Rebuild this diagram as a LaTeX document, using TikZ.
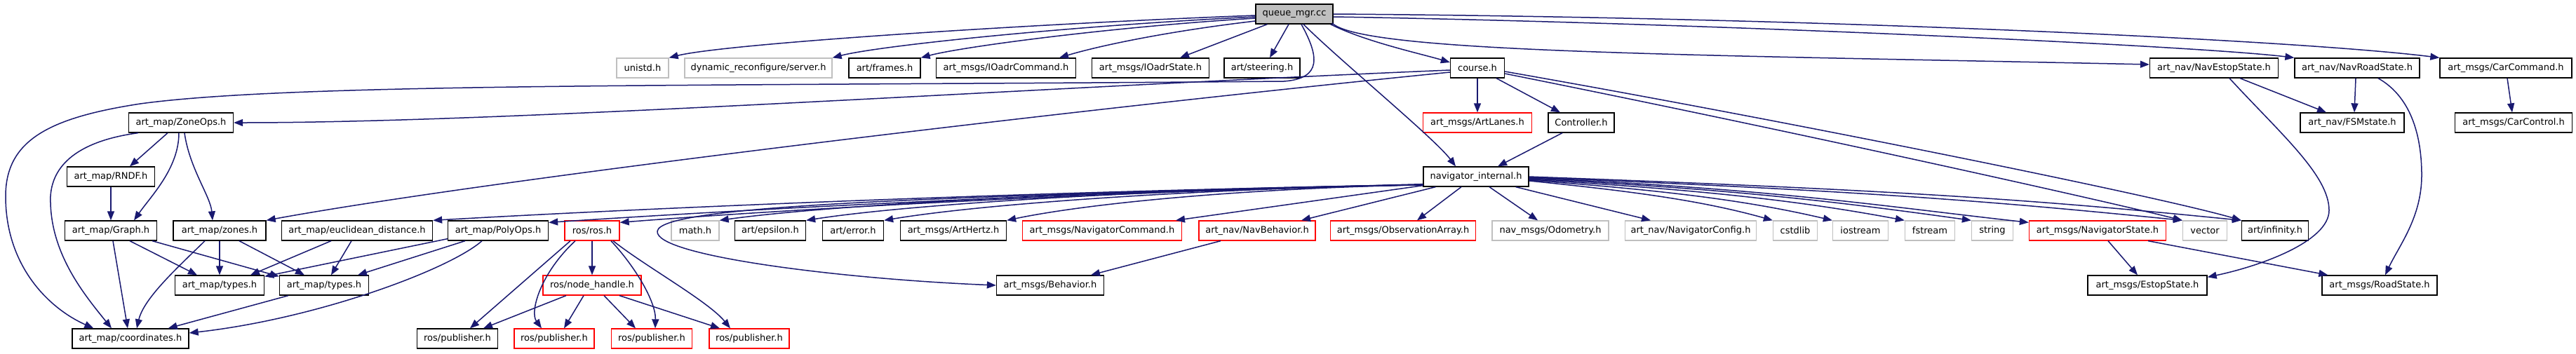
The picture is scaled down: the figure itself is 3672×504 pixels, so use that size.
\documentclass[tikz,border=0pt]{standalone}
\usepackage{fontspec}
\newfontfamily\dvs{DejaVu Sans}
\usetikzlibrary{arrows.meta,calc}
\definecolor{edgeblue}{HTML}{191970}
\definecolor{sysgray}{HTML}{BFBFBF}
\definecolor{rootgray}{HTML}{BFBFBF}
\begin{document}
\begin{tikzpicture}[x=1pt,y=-1pt,
 nd/.style={draw=black,line width=1.3pt,fill=white,minimum height=28pt,inner xsep=4pt,inner ysep=0pt,font=\dvs\fontsize{13}{15}\selectfont,text=black},
 sysnd/.style={nd,draw=sysgray},
 rednd/.style={nd,draw=red},
 rootnd/.style={nd,fill=rootgray},
 edge/.style={draw=edgeblue,line width=1.5pt,-{Triangle[length=13pt,width=10pt]}}]
\fill[white] (0,0) rectangle (3672,504);
\useasboundingbox (0,0) rectangle (3672,504);
% row 0
\node[rootnd,minimum width=110pt] (qmgr) at (1845,20) {queue\_mgr.cc};
% row 1
\node[sysnd,minimum width=74pt] (unistd) at (916,97) {unistd.h};
\node[sysnd,minimum width=210pt] (dynrec) at (1081,97) {dynamic\_reconfigure/server.h};
\node[nd,minimum width=102pt] (frames) at (1261,97) {art/frames.h};
\node[nd,minimum width=199pt] (ioadrcmd) at (1434,97) {art\_msgs/IOadrCommand.h};
\node[nd,minimum width=167pt] (ioadrstate) at (1640,97) {art\_msgs/IOadrState.h};
\node[nd,minimum width=108pt] (steering) at (1799,97) {art/steering.h};
\node[nd,minimum width=77pt] (course) at (2106,97) {course.h};
\node[nd,minimum width=183pt] (navestop) at (3156,97) {art\_nav/NavEstopState.h};
\node[nd,minimum width=178pt] (navroad) at (3360,97) {art\_nav/NavRoadState.h};
\node[nd,minimum width=188pt] (carcmd) at (3572,97) {art\_msgs/CarCommand.h};
% row 2
\node[nd,minimum width=149pt] (zoneops) at (258,175) {art\_map/ZoneOps.h};
\node[rednd,minimum width=155pt] (artlanes) at (2106,175) {art\_msgs/ArtLanes.h};
\node[nd,minimum width=94pt] (controller) at (2254,175) {Controller.h};
\node[nd,minimum width=148pt] (fsm) at (3353,175) {art\_nav/FSMstate.h};
\node[nd,minimum width=167pt] (carcontrol) at (3583,175) {art\_msgs/CarControl.h};
% row 3
\node[nd,minimum width=125pt] (rndf) at (158,252) {art\_map/RNDF.h};
\node[nd,minimum width=150pt] (navint) at (2104,252) {navigator\_internal.h};
% row 4
\node[nd,minimum width=131pt] (graph) at (158,329) {art\_map/Graph.h};
\node[nd,minimum width=132pt] (zones) at (313,329) {art\_map/zones.h};
\node[nd,minimum width=215pt] (euclid) at (509,329) {art\_map/euclidean\_distance.h};
\node[nd,minimum width=143pt] (polyops) at (710,329) {art\_map/PolyOps.h};
\node[rednd,minimum width=78pt] (ros) at (844,329) {ros/ros.h};
\node[sysnd,minimum width=68pt] (math) at (991,329) {math.h};
\node[nd,minimum width=101pt] (epsilon) at (1098,329) {art/epsilon.h};
\node[nd,minimum width=87pt] (error) at (1216,329) {art/error.h};
\node[nd,minimum width=151pt] (arthertz) at (1359,329) {art\_msgs/ArtHertz.h};
\node[rednd,minimum width=227pt] (navcmd) at (1571,329) {art\_msgs/NavigatorCommand.h};
\node[rednd,minimum width=166pt] (navbeh) at (1792,329) {art\_nav/NavBehavior.h};
\node[rednd,minimum width=207pt] (obsarr) at (2000,329) {art\_msgs/ObservationArray.h};
\node[sysnd,minimum width=166pt] (odom) at (2210,329) {nav\_msgs/Odometry.h};
\node[sysnd,minimum width=187pt] (navconfig) at (2410,329) {art\_nav/NavigatorConfig.h};
\node[sysnd,minimum width=63pt] (cstdlib) at (2559,329) {cstdlib};
\node[sysnd,minimum width=79pt] (iostream) at (2652,329) {iostream};
\node[sysnd,minimum width=71pt] (fstream) at (2751,329) {fstream};
\node[sysnd,minimum width=59pt] (string) at (2840,329) {string};
\node[rednd,minimum width=195pt] (navstate) at (2990,329) {art\_msgs/NavigatorState.h};
\node[sysnd,minimum width=63pt] (vector) at (3143,329) {vector};
\node[nd,minimum width=95pt] (infinity) at (3243,329) {art/infinity.h};
% row 5
\node[nd,minimum width=127pt] (types1) at (313,407) {art\_map/types.h};
\node[nd,minimum width=127pt] (types2) at (462,407) {art\_map/types.h};
\node[rednd,minimum width=140pt] (nodehandle) at (844,407) {ros/node\_handle.h};
\node[nd,minimum width=153pt] (behavior) at (1497,407) {art\_msgs/Behavior.h};
\node[nd,minimum width=170pt] (estop) at (3061,407) {art\_msgs/EstopState.h};
\node[nd,minimum width=164pt] (roadstate) at (3392,407) {art\_msgs/RoadState.h};
% row 6
\node[nd,minimum width=166pt] (coords) at (186,483) {art\_map/coordinates.h};
\node[nd,minimum width=115pt] (pub0) at (652,483) {ros/publisher.h};
\node[rednd,minimum width=114pt] (pub1) at (790,483) {ros/publisher.h};
\node[rednd,minimum width=115pt] (pub2) at (929,483) {ros/publisher.h};
\node[rednd,minimum width=114pt] (pub3) at (1068,483) {ros/publisher.h};

% ---- edges from queue_mgr.cc
\draw[edge] ($(qmgr.west)+(0,2)$) .. controls +(-320,12) and +(80,-20) .. (unistd.north east);
\draw[edge] ($(qmgr.west)+(0,4)$) .. controls +(-250,12) and +(70,-18) .. (dynrec.north east);
\draw[edge] ($(qmgr.west)+(0,6)$) .. controls +(-200,12) and +(60,-16) .. (frames.north east);
\draw[edge] ($(qmgr.west)+(0,10)$) .. controls +(-120,14) and +(60,-18) .. ($(ioadrcmd.north)+(76,0)$);
\draw[edge] ($(qmgr.south west)+(17,0)$) -- ($(ioadrstate.north)+(42,0)$);
\draw[edge] ($(qmgr.south)+(-8,0)$) -- ($(steering.north)+(11,0)$);
\draw[edge] ($(qmgr.south)+(10,0)$) .. controls (1880,80) and (1885,112) .. (1830,116) .. controls (1000,123) and (420,118) .. (200,148) .. controls (70,168) and (8,200) .. (8,280) .. controls (8,380) and (70,440) .. ($(coords.north west)+(31,0)$);
\draw[edge] ($(qmgr.south east)+(-4,0)$) .. controls +(50,25) and +(-40,-12) .. ($(course.west)+(0,-8)$);
\draw[edge] ($(qmgr.south)+(13,0)$) .. controls +(50,50) and +(-30,-40) .. ($(navint.north)+(-29,0)$);
\draw[edge] ($(qmgr.south east)+(-2,-2)$) .. controls (1940,75) and (2400,78) .. ($(navestop.west)+(0,-5)$);
\draw[edge] ($(qmgr.east)+(0,4)$) .. controls +(500,8) and +(-150,-18) .. (navroad.north west);
\draw[edge] (qmgr.east) .. controls +(700,5) and +(-200,-25) .. (carcmd.north west);
% ---- course.h
\draw[edge] ($(course.west)+(0,3)$) .. controls +(-600,25) and +(400,0) .. (zoneops.east);
\draw[edge] ($(course.west)+(0,6)$) .. controls +(-600,60) and +(300,-55) .. (zones.north east);
\draw[edge] (course.south) -- (artlanes.north);
\draw[edge] ($(course.south)+(27,0)$) -- ($(controller.north)+(-30,0)$);
\draw[edge] ($(course.east)+(0,5)$) .. controls +(400,70) and +(-120,-35) .. (infinity.north west);
\draw[edge] ($(course.east)+(0,8)$) .. controls +(400,80) and +(-120,-30) .. (vector.north west);
\draw[edge] ($(controller.south)+(-27,0)$) -- ($(navint.north)+(31,0)$);
% ---- navigator_internal.h, left fan
\draw[edge] ($(navint.south west)+(0,-3)$) .. controls +(-500,8) and +(350,-20) .. (euclid.north east);
\draw[edge] ($(navint.south west)+(0,-3)$) .. controls +(-450,8) and +(300,-20) .. ($(polyops.north east)+(0,3)$);
\draw[edge] ($(navint.south west)+(0,-3)$) .. controls +(-400,8) and +(280,-22) .. ($(ros.north east)+(0,3)$);
\draw[edge] ($(navint.south west)+(0,-3)$) .. controls +(-380,5) and +(180,-25) .. (math.north east);
\draw[edge] ($(navint.south west)+(0,-3)$) .. controls +(-350,5) and +(160,-25) .. (epsilon.north east);
\draw[edge] ($(navint.south west)+(0,-3)$) .. controls +(-300,5) and +(150,-25) .. (error.north east);
\draw[edge] ($(navint.south west)+(0,-3)$) .. controls +(-250,5) and +(120,-25) .. (arthertz.north east);
\draw[edge] ($(navint.south west)+(0,-2)$) -- ($(navcmd.north)+(105,0)$);
\draw[edge] ($(navint.south west)+(18,0)$) -- ($(navbeh.north)+(63,0)$);
\draw[edge] ($(navint.south west)+(0,-4)$) .. controls (1400,280) and (940,290) .. (937,330) .. controls (934,365) and (1200,398) .. (behavior.west);
% ---- navigator_internal.h, right fan
\draw[edge] ($(navint.south)+(-21,0)$) -- ($(obsarr.north)+(20,0)$);
\draw[edge] ($(navint.south)+(19,0)$) -- ($(odom.north)+(-18,0)$);
\draw[edge] ($(navint.south east)+(-19,0)$) -- ($(navconfig.north)+(-57,0)$);
\draw[edge] ($(navint.east)+(0,6)$) .. controls +(150,15) and +(-100,-28) .. (cstdlib.north west);
\draw[edge] ($(navint.east)+(0,5)$) .. controls +(200,15) and +(-120,-28) .. (iostream.north west);
\draw[edge] ($(navint.east)+(0,4)$) .. controls +(250,15) and +(-150,-28) .. (fstream.north west);
\draw[edge] ($(navint.east)+(0,3)$) .. controls +(300,15) and +(-180,-25) .. (string.north west);
\draw[edge] ($(navint.east)+(0,2)$) .. controls +(350,15) and +(-200,-22) .. ($(navstate.north west)+(0,3)$);
\draw[edge] ($(navint.east)+(0,1)$) .. controls +(500,20) and +(-250,-25) .. (vector.north west);
\draw[edge] (navint.east) .. controls +(550,20) and +(-280,-28) .. (infinity.north west);
\draw[edge] ($(navbeh.south)+(-52,0)$) -- ($(behavior.north)+(58,0)$);
% ---- ZoneOps.h
\draw[edge] ($(zoneops.south)+(-19,0)$) -- ($(rndf.north)+(27,0)$);
\draw[edge] ($(zoneops.south)+(-3,0)$) .. controls (255,240) and (215,280) .. ($(graph.north)+(33,0)$);
\draw[edge] ($(zoneops.south)+(5,0)$) .. controls (270,240) and (300,280) .. ($(zones.north)+(-10,0)$);
\draw[edge] ($(zoneops.south west)+(14,0)$) .. controls (120,200) and (75,230) .. (72,280) .. controls (70,360) and (120,420) .. ($(coords.north)+(-27,0)$);
\draw[edge] (rndf.south) -- (graph.north);
% ---- Graph.h
\draw[edge] ($(graph.south)+(27,0)$) -- ($(types1.north)+(-32,0)$);
\draw[edge] ($(graph.south)+(59,0)$) -- ($(types2.north west)+(0,2)$);
\draw[edge] ($(graph.south)+(3,0)$) -- ($(coords.north)+(-4,0)$);
% ---- zones.h
\draw[edge] (zones.south) -- (types1.north);
\draw[edge] ($(zones.south)+(28,0)$) -- ($(types2.north)+(-28,0)$);
\draw[edge] ($(zones.south)+(-21,0)$) .. controls (255,380) and (205,425) .. ($(coords.north)+(9,0)$);
% ---- euclidean_distance.h
\draw[edge] ($(euclid.south)+(-37,0)$) -- ($(types1.north)+(44,0)$);
\draw[edge] ($(euclid.south)+(-8,0)$) -- ($(types2.north)+(10,0)$);
% ---- PolyOps.h
\draw[edge] ($(polyops.south west)+(0,-3)$) -- ($(types1.north east)+(0,2)$);
\draw[edge] ($(polyops.south)+(-47,0)$) -- ($(types2.north)+(48,0)$);
\draw[edge] ($(polyops.south)+(-23,0)$) .. controls (640,385) and (450,455) .. ($(coords.east)+(0,-8)$);
\draw[edge] ($(types2.south)+(-51,0)$) -- ($(coords.north east)+(-30,0)$);
% ---- ros.h
\draw[edge] (ros.south) -- (nodehandle.north);
\draw[edge] ($(ros.south)+(-31,0)$) -- ($(pub0.north)+(18,0)$);
\draw[edge] ($(ros.south)+(-24,0)$) .. controls (770,390) and (755,445) .. ($(pub1.north)+(-18,0)$);
\draw[edge] ($(ros.south)+(27,0)$) .. controls (905,380) and (935,430) .. ($(pub2.north)+(5,0)$);
\draw[edge] ($(ros.south)+(30,0)$) .. controls (920,380) and (1010,430) .. ($(pub3.north)+(-27,0)$);
% ---- node_handle.h
\draw[edge] ($(nodehandle.south)+(-37,0)$) -- ($(pub0.north)+(37,0)$);
\draw[edge] ($(nodehandle.south)+(-12,0)$) -- ($(pub1.north)+(14,0)$);
\draw[edge] ($(nodehandle.south)+(17,0)$) -- ($(pub2.north)+(-23,0)$);
\draw[edge] ($(nodehandle.south)+(39,0)$) -- ($(pub3.north)+(-42,0)$);
% ---- right part
\draw[edge] ($(navestop.south)+(37,0)$) -- ($(fsm.north)+(-37,0)$);
\draw[edge] ($(navestop.south)+(22,0)$) .. controls (3250,190) and (3320,250) .. (3320,300) .. controls (3320,345) and (3220,380) .. ($(estop.north east)+(0,3)$);
\draw[edge] ($(navroad.south)+(-2,0)$) -- ($(fsm.north)+(3,0)$);
\draw[edge] ($(navroad.south)+(30,0)$) .. controls (3440,140) and (3452,200) .. (3452,250) .. controls (3452,310) and (3420,350) .. ($(roadstate.north)+(8,0)$);
\draw[edge] ($(carcmd.south)+(2,0)$) -- ($(carcontrol.north)+(-2,0)$);
\draw[edge] ($(navstate.south)+(15,0)$) -- ($(estop.north)+(-14,0)$);
\draw[edge] ($(navstate.south)+(72,0)$) -- ($(roadstate.north west)+(9,0)$);
\end{tikzpicture}
\end{document}
